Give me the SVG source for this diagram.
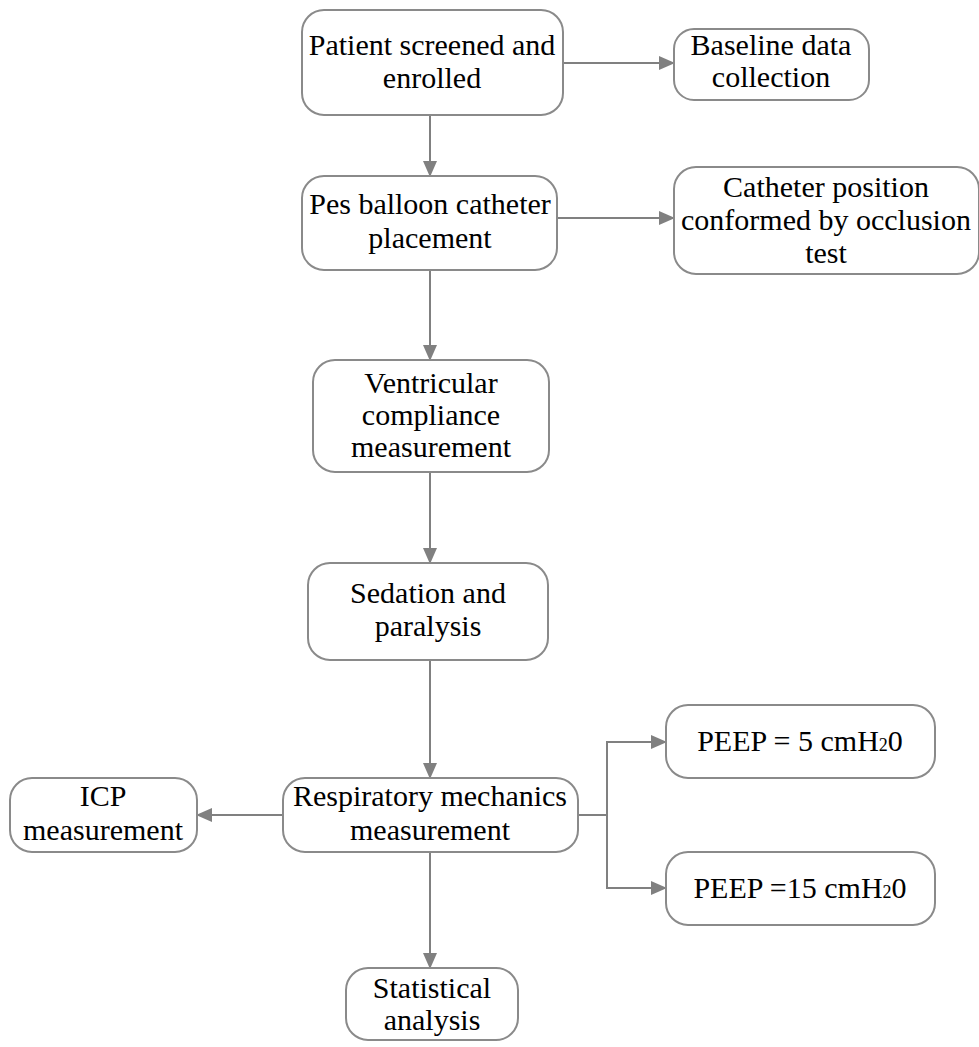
<svg xmlns="http://www.w3.org/2000/svg" width="979" height="1047" viewBox="0 0 979 1047">
<style>
.box{fill:#fff;stroke:#8a8a8a;stroke-width:2}
.t{font-family:"Liberation Serif","Times New Roman","DejaVu Serif",serif;font-size:30px;fill:#000;text-anchor:middle}
.e{fill:none;stroke:#808080;stroke-width:2}
.sub{font-size:18px}
</style>
<defs>
<marker id="ah" markerWidth="16" markerHeight="16" refX="15" refY="8" orient="auto" markerUnits="userSpaceOnUse">
<path d="M0,1 L16,8 L0,15 Z" fill="#808080"/>
</marker>
</defs>
<rect width="979" height="1047" fill="#fff"/>
<g id="connectors">
<path class="e" d="M563,63 H674" marker-end="url(#ah)"/>
<path class="e" d="M430,115 V176" marker-end="url(#ah)"/>
<path class="e" d="M557,218 H674" marker-end="url(#ah)"/>
<path class="e" d="M430,270 V360" marker-end="url(#ah)"/>
<path class="e" d="M430,472 V563" marker-end="url(#ah)"/>
<path class="e" d="M430,660 V778" marker-end="url(#ah)"/>
<path class="e" d="M283,815 H197" marker-end="url(#ah)"/>
<path class="e" d="M578,815 H607 V742 H666" marker-end="url(#ah)"/>
<path class="e" d="M607,815 V888 H666" marker-end="url(#ah)"/>
<path class="e" d="M430,852 V968" marker-end="url(#ah)"/>
</g>
<g id="n1"><rect class="box" x="302" y="10" width="261" height="105" rx="22"/>
<text class="t" x="432" y="55">Patient screened and</text><text class="t" x="432" y="88">enrolled</text></g>
<g id="n2"><rect class="box" x="674" y="29" width="195" height="71" rx="20"/>
<text class="t" x="771" y="55">Baseline data</text><text class="t" x="771" y="87">collection</text></g>
<g id="n3"><rect class="box" x="302" y="176" width="255" height="94" rx="22"/>
<text class="t" x="430" y="214">Pes balloon catheter</text><text class="t" x="430" y="248">placement</text></g>
<g id="n4"><rect class="box" x="674" y="167" width="305" height="107" rx="22"/>
<text class="t" x="826" y="197">Catheter position</text><text class="t" x="826" y="230">conformed by occlusion</text><text class="t" x="826" y="263">test</text></g>
<g id="n5"><rect class="box" x="313" y="360" width="236" height="112" rx="22"/>
<text class="t" x="431" y="393">Ventricular</text><text class="t" x="431" y="425">compliance</text><text class="t" x="431" y="457">measurement</text></g>
<g id="n6"><rect class="box" x="308" y="563" width="240" height="97" rx="22"/>
<text class="t" x="428" y="603">Sedation and</text><text class="t" x="428" y="636">paralysis</text></g>
<g id="n7"><rect class="box" x="283" y="778" width="295" height="74" rx="22"/>
<text class="t" x="430" y="806">Respiratory mechanics</text><text class="t" x="430" y="840">measurement</text></g>
<g id="n8"><rect class="box" x="10" y="778" width="187" height="74" rx="22"/>
<text class="t" x="103" y="806">ICP</text><text class="t" x="103" y="840">measurement</text></g>
<g id="n9"><rect class="box" x="666" y="705" width="269" height="73" rx="22"/>
<text class="t" x="800" y="751">PEEP = 5 cmH<tspan class="sub">2</tspan>0</text></g>
<g id="n10"><rect class="box" x="666" y="852" width="269" height="73" rx="22"/>
<text class="t" x="800" y="898">PEEP =15 cmH<tspan class="sub">2</tspan>0</text></g>
<g id="n11"><rect class="box" x="346" y="968" width="172" height="72" rx="22"/>
<text class="t" x="432" y="998">Statistical</text><text class="t" x="432" y="1030">analysis</text></g>
</svg>
